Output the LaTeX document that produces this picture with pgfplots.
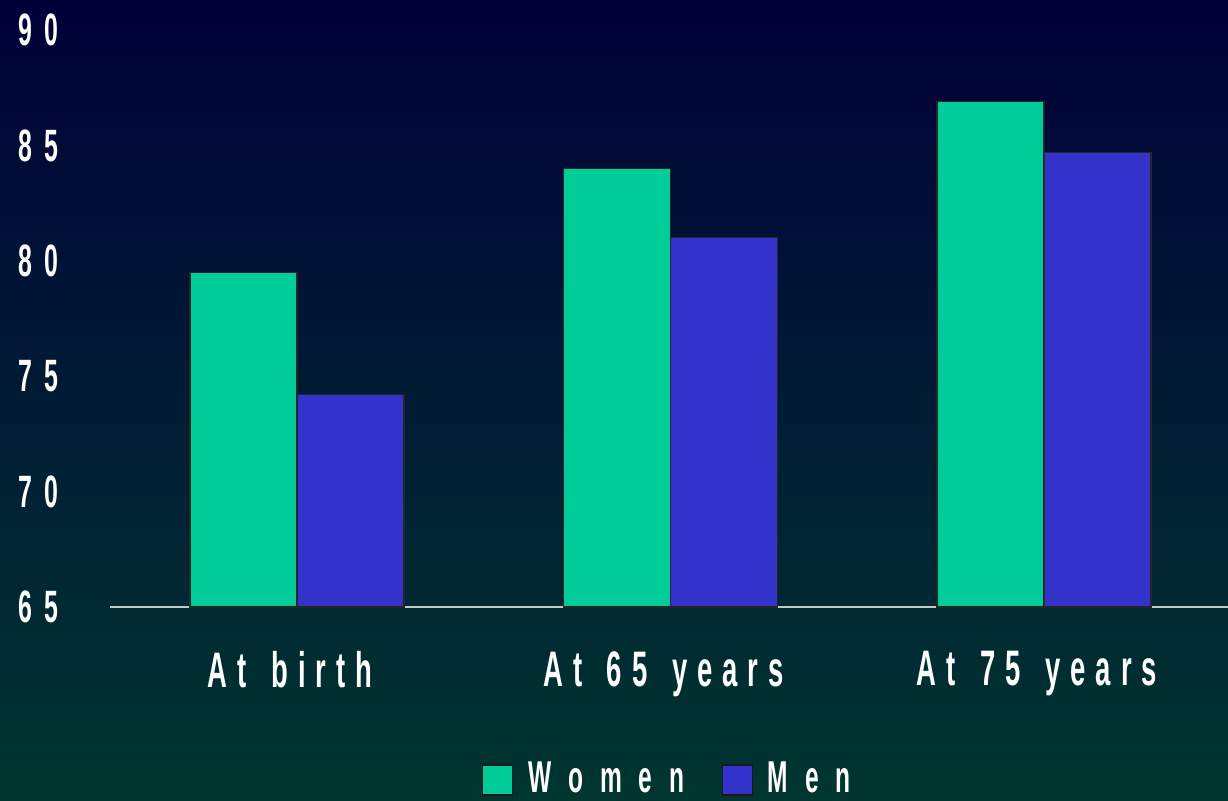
\documentclass[border=0pt]{standalone}
\usepackage{fontspec}
\usepackage{pgfplots}
\pgfplotsset{compat=1.18}
\newfontfamily\tickfont{Liberation Sans}[FakeStretch=0.55, LetterSpace=27]
\newfontfamily\catfont{Liberation Sans}[FakeStretch=0.55, LetterSpace=20, WordSpace=1.4]
\newfontfamily\legfont{Liberation Sans}[FakeStretch=0.55, LetterSpace=38]
\definecolor{women}{RGB}{0,204,153}
\definecolor{men}{RGB}{51,51,204}
\definecolor{bgtop}{RGB}{0,0,56}
\definecolor{bgmid}{RGB}{2,14,38}
\definecolor{bgbot}{RGB}{0,54,48}
\definecolor{baseline}{RGB}{200,200,200}
\begin{document}
\begin{tikzpicture}
\useasboundingbox (0,0) rectangle (12.28cm,8cm);
\shade[top color=bgtop, middle color=bgmid, bottom color=bgbot] (0,0) rectangle (12.28cm,8cm);
\begin{axis}[
  at={(1.10cm,1.93cm)}, anchor=south west,
  scale only axis, width=11.18cm, height=5.77cm,
  ybar=0pt, bar width=1.07cm,
  xmin=-0.5007, xmax=2.4927, ymin=65, ymax=90,
  xtick={0,1,2}, xticklabels={At birth, At 65 years, At 75 years},
  ytick={65,70,75,80,85,90},
  major tick length=0pt,
  axis x line=bottom, axis y line=left,
  x axis line style={-, draw=baseline, line width=0.8pt},
  y axis line style={draw=none},
  /pgf/number format/assume math mode=true,
  yticklabel style={font=\tickfont\bfseries\fontsize{12.9}{14}\selectfont, text=white, anchor=east, xshift=-0.39cm},
  xticklabel style={font=\catfont\bfseries\fontsize{14.2}{16}\selectfont, text=white, anchor=north, yshift=-0.32cm, xshift=-0.07cm},
  legend style={at={(0.5009,-0.30)}, anchor=center, draw=none, fill=none,
    font=\legfont\bfseries\fontsize{12.7}{14}\selectfont, text=white,
    legend columns=2,
    /tikz/every odd column/.append style={column sep=0.08cm},
    /tikz/every even column/.append style={column sep=0.3cm}},
  legend image code/.code={\draw[#1, draw=black!90] (0cm,-0.15cm) rectangle (0.3cm,0.15cm);},
]
\addplot[fill=women, draw=black!85, line width=0.4pt] coordinates {(0,79.5) (1,84.0) (2,86.9)};
\addplot[fill=men, draw=black!85, line width=0.4pt] coordinates {(0,74.2) (1,81.0) (2,84.7)};
\legend{Women, Men}
\end{axis}
\end{tikzpicture}
\end{document}
